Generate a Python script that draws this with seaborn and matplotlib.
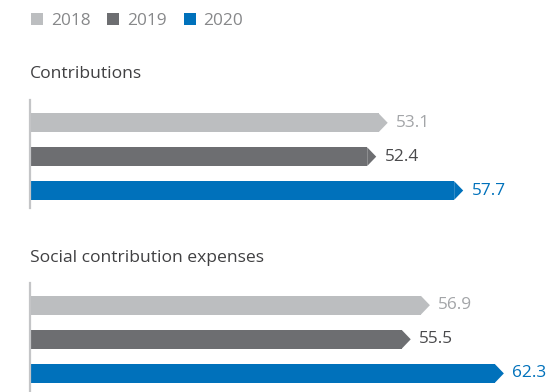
import matplotlib
matplotlib.use("Agg")
import matplotlib.pyplot as plt
from matplotlib.patches import Polygon, Patch
import seaborn as sns
import pandas as pd

# Data
years = ["2018", "2019", "2020"]
contributions = [53.1, 52.4, 57.7]
social_expenses = [56.9, 55.5, 62.3]
panel_titles = ["Contributions", "Social contribution expenses"]

bar_colors = ["#bcbec0", "#6d6e71", "#0071bb"]
label_colors = ["#a3a5a8", "#4a4a4c", "#0071bb"]
title_color = "#404042"
legend_text_color = "#87888a"

sns.set_theme(style="white")
plt.rcParams["font.family"] = ["Open Sans", "DejaVu Sans"]

W, H = 560, 392
fig = plt.figure(figsize=(W / 100, H / 100), dpi=100)


def frac_box(x0, x1, y_top, y_bot):
    """Axes rectangle from pixel coordinates (origin at top-left)."""
    return [x0 / W, 1 - y_bot / H, (x1 - x0) / W, (y_bot - y_top) / H]


panels = [
    dict(values=contributions, title=panel_titles[0], title_y=74,
         box=frac_box(30, 560, 100, 208), xlim=(31.3, 63.6), ylim=(2.516, -0.673)),
    dict(values=social_expenses, title=panel_titles[1], title_y=258,
         box=frac_box(30, 560, 283, 392), xlim=(27.7, 66.4), ylim=(2.545, -0.651)),
]

tip_px = 9
gap_px = 8.5

for p in panels:
    ax = fig.add_axes(p["box"])
    df = pd.DataFrame({"year": years, "value": p["values"]})
    sns.barplot(data=df, x="value", y="year", hue="year", palette=bar_colors,
                orient="h", width=0.55, legend=False, ax=ax, saturation=1)
    ax.set_xlim(*p["xlim"])
    ax.set_ylim(*p["ylim"])
    units_per_px = (p["xlim"][1] - p["xlim"][0]) / (p["box"][2] * W)
    tip = tip_px * units_per_px

    # Turn each bar into an arrow: shorten the body and add a pointed tip
    for i, patch in enumerate(ax.patches):
        y0 = patch.get_y()
        h = patch.get_height()
        val = p["values"][i]
        patch.set_width(val - tip)
        patch.set_linewidth(0)
        tri = Polygon([[val - tip, y0], [val, y0 + h / 2], [val - tip, y0 + h]],
                      closed=True, facecolor=bar_colors[i], edgecolor="none")
        ax.add_patch(tri)
        ax.text(val + gap_px * units_per_px, y0 + h / 2, f"{val:.1f}",
                color=label_colors[i], fontsize=12.4, va="center", ha="left")

    for s in ["top", "right", "bottom"]:
        ax.spines[s].set_visible(False)
    ax.spines["left"].set_color("#c4c5c7")
    ax.spines["left"].set_linewidth(1.6)
    ax.set_xticks([])
    ax.set_yticks([])
    ax.set_xlabel("")
    ax.set_ylabel("")
    ax.patch.set_alpha(0)

    fig.text(30 / W, 1 - p["title_y"] / H, p["title"], color=title_color,
             fontsize=12.6, va="center", ha="left")

# Legend
handles = [Patch(facecolor=c, edgecolor="none", label=y) for y, c in zip(years, bar_colors)]
leg = fig.legend(handles=handles, loc="center left", ncol=3, frameon=False,
                 bbox_to_anchor=(31 / W, 1 - 21 / H), fontsize=12.4,
                 handlelength=0.7, handleheight=0.7, handletextpad=0.45,
                 columnspacing=0.98, borderaxespad=0, borderpad=0)
for t in leg.get_texts():
    t.set_color(legend_text_color)

fig.savefig("out.png", dpi=100)
